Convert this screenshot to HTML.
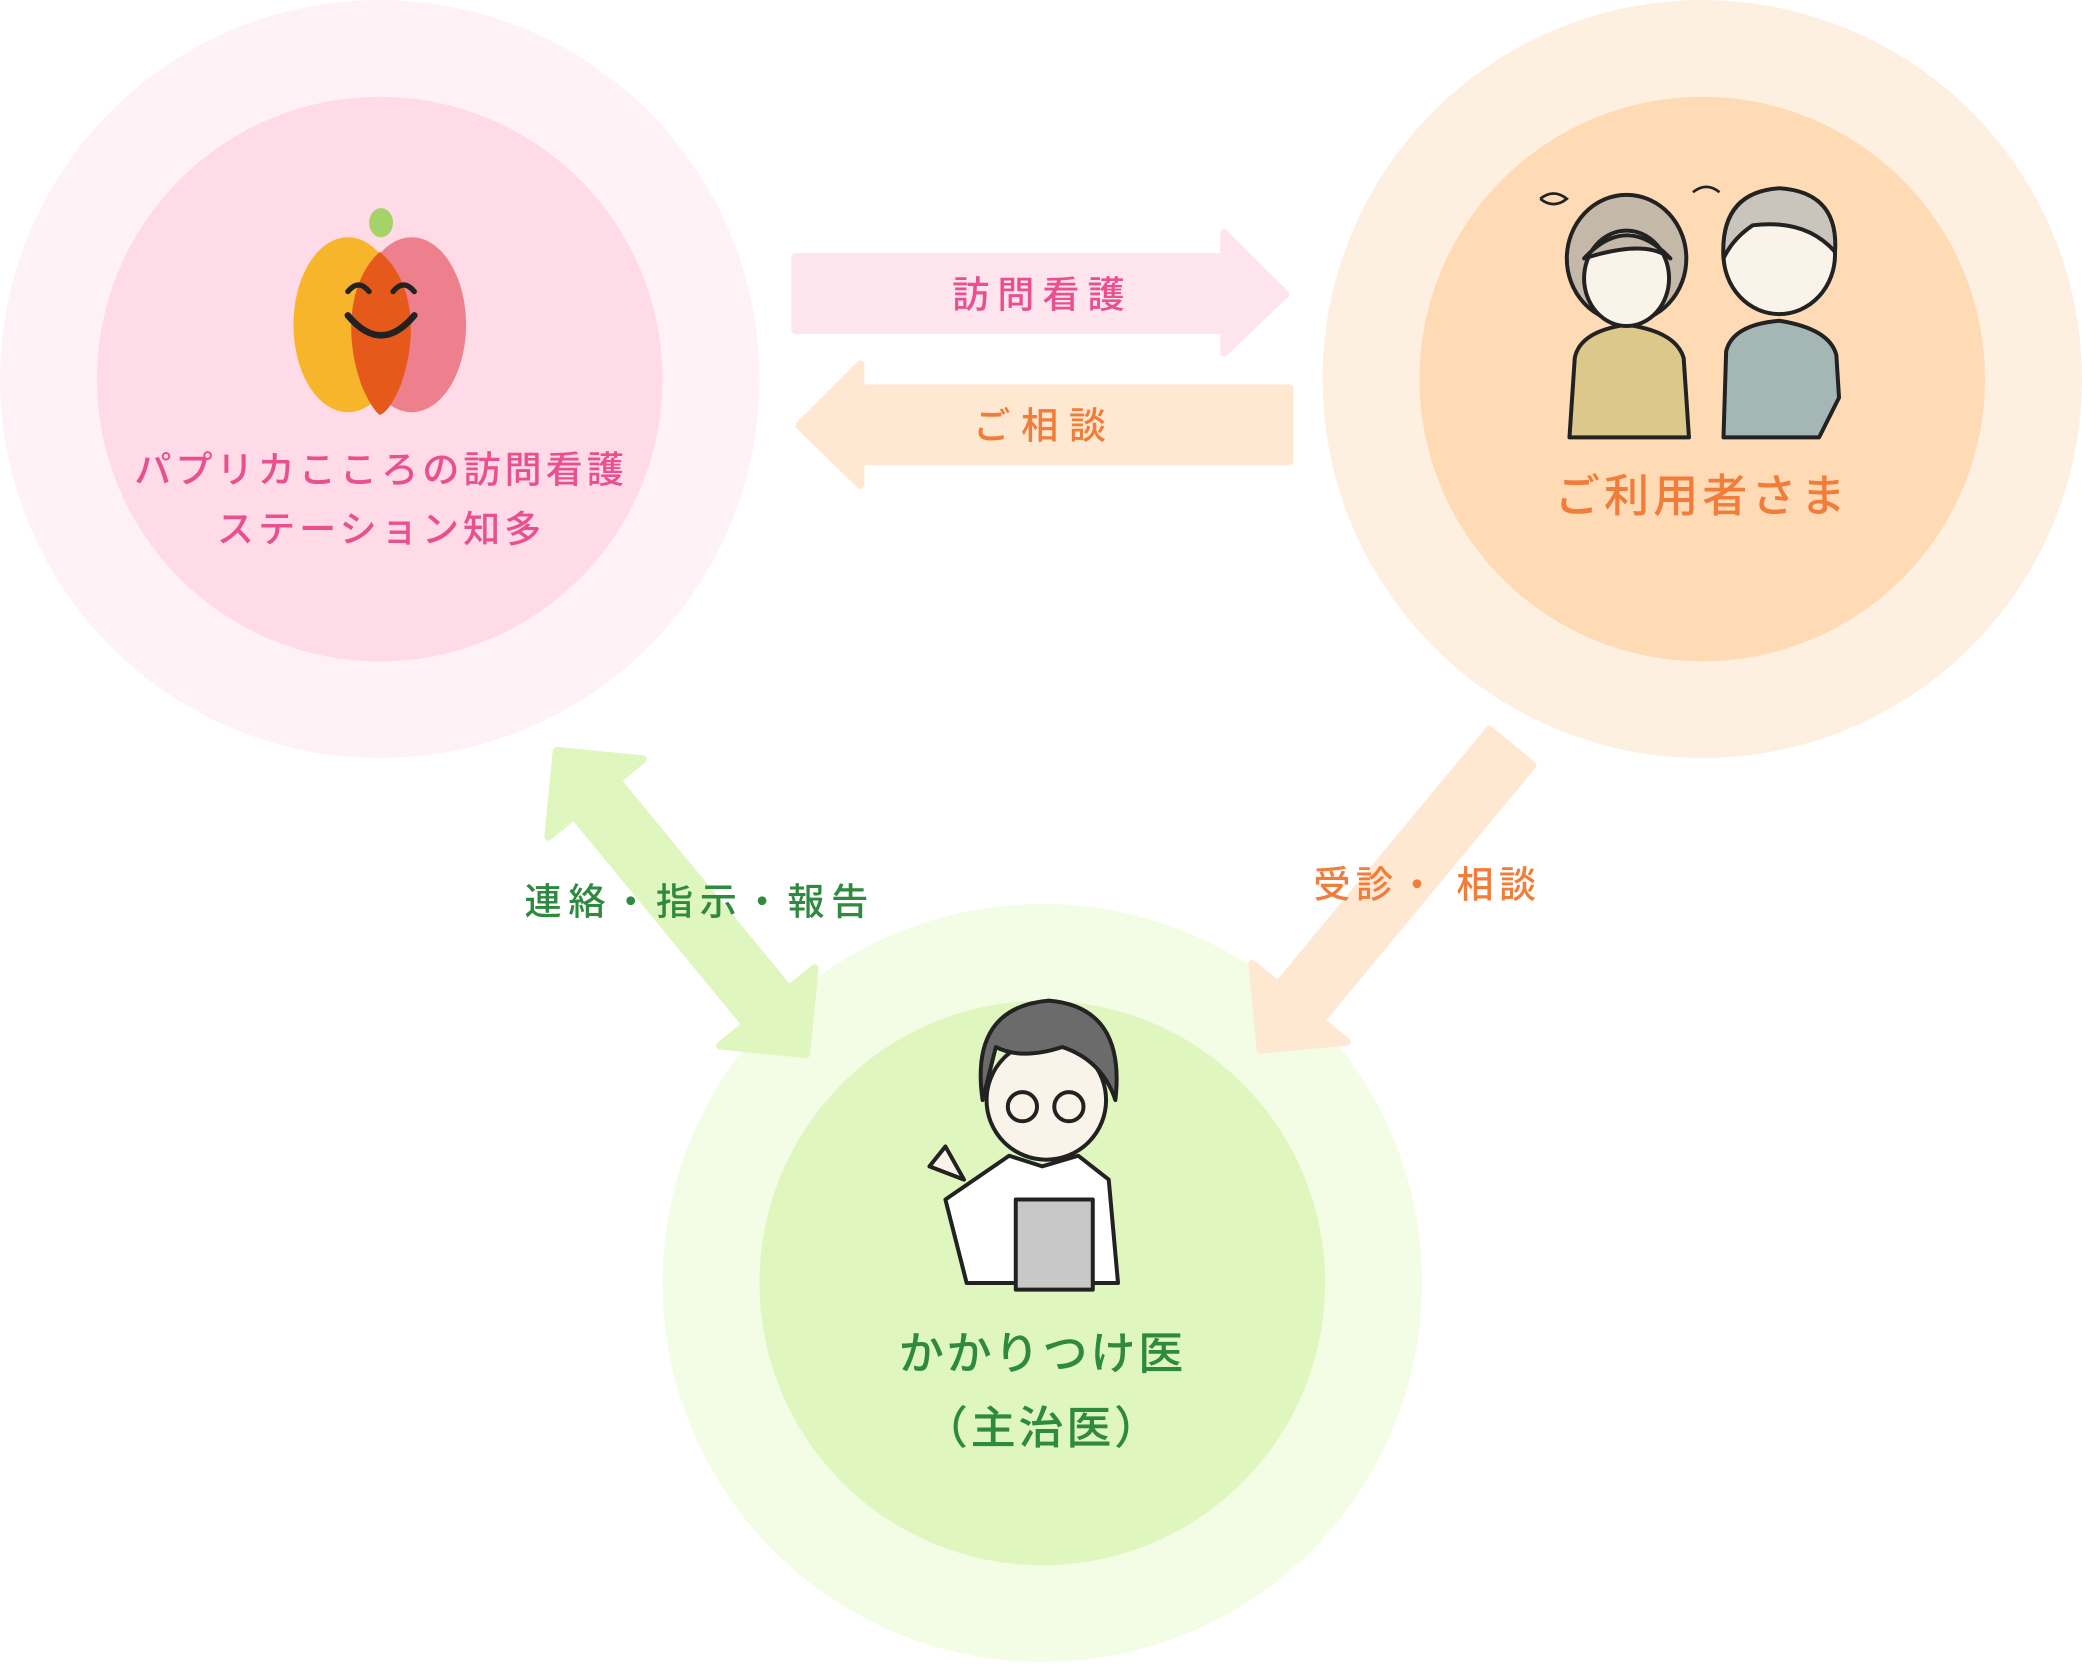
<!DOCTYPE html>
<html><head><meta charset="utf-8">
<style>
html,body{margin:0;padding:0;background:#fff;width:2082px;height:1666px;overflow:hidden}
svg{display:block}
text{font-family:"Liberation Sans","Noto Sans CJK JP",sans-serif;font-weight:500}
</style></head><body>
<svg width="2082" height="1666" viewBox="0 0 1568 1257" preserveAspectRatio="none" xmlns="http://www.w3.org/2000/svg">
<circle cx="286" cy="286" r="286" fill="#fff2f6"/>
<circle cx="286" cy="286" r="213" fill="#fedbe6"/>
<circle cx="1282" cy="286" r="286" fill="#fef0e1"/>
<circle cx="1282" cy="286" r="213" fill="#fedbb5"/>
<circle cx="785" cy="968" r="286" fill="#f3fce4"/>
<circle cx="785" cy="968" r="213" fill="#dff6bf"/>

<g stroke-linejoin="round" stroke-width="6">
<polygon points="599,194 922,194 922,176 968,222 922,266 922,249 599,249" fill="#fee4ec" stroke="#fee4ec"/>
<polygon points="971,293 648,293 648,275 602,321 648,366 648,348 971,348" fill="#fee8d2" stroke="#fee8d2"/>
<g transform="translate(418,565) rotate(50.6)" fill="#dff6bf" stroke="#dff6bf">
<polygon points="2,0 48,-46 48,-21 252,-21 252,-46 298,0 252,46 252,21 48,21 48,46"/>
</g>
<g transform="translate(1138,564) rotate(129.6)" fill="#fee8d2" stroke="#fee8d2">
<polygon points="0,-21 250,-21 250,-46 296,0 250,46 250,21 0,21"/>
</g>
</g>

<text x="785" y="232" font-size="28" fill="#e9508f" text-anchor="middle" letter-spacing="6">訪問看護</text>
<text x="787" y="331" font-size="28" fill="#f27c3a" text-anchor="middle" letter-spacing="8">ご相談</text>
<text x="527" y="690" font-size="28" fill="#2d8a3e" text-anchor="middle" letter-spacing="5">連絡・指示・報告</text>
<text x="1075" y="677" font-size="28" fill="#f27c3a" text-anchor="middle" letter-spacing="4">受診・ 相談</text>

<ellipse cx="287" cy="168" rx="9" ry="11" fill="#a5d36a"/>
<ellipse cx="262" cy="245" rx="41" ry="66" fill="#f7b52c"/>
<ellipse cx="310" cy="245" rx="41" ry="66" fill="#ee7f8d"/>
<path d="M286,190 C264,210 258,250 272,290 C278,305 284,312 286,313 C290,312 296,305 302,290 C316,250 310,210 286,190Z" fill="#e55a1b"/>
<path d="M262,220 q8,-10 16,0 M296,220 q8,-10 16,0" stroke="#222" stroke-width="4" fill="none" stroke-linecap="round"/>
<path d="M262,238 q25,30 50,0" stroke="#222" stroke-width="5" fill="none" stroke-linecap="round"/>

<text x="287" y="364" font-size="28" fill="#e9508f" text-anchor="middle" letter-spacing="3">パプリカこころの訪問看護</text>
<text x="287" y="409" font-size="28" fill="#e9508f" text-anchor="middle" letter-spacing="3">ステーション知多</text>

<g stroke="#222" stroke-width="3" stroke-linejoin="round">
<path d="M1182,330 L1186,270 Q1190,250 1225,245 Q1262,250 1268,270 L1272,330Z" fill="#dcc88a"/>
<ellipse cx="1225" cy="195" rx="45" ry="48" fill="#c4b8a8"/>
<ellipse cx="1225" cy="210" rx="32" ry="36" fill="#faf3ea"/>
<path d="M1193,195 Q1225,160 1258,195 Q1240,180 1193,195Z" fill="#c4b8a8"/>
<path d="M1298,330 L1300,265 Q1305,245 1340,242 Q1378,248 1383,268 L1385,300 L1370,330Z" fill="#a4b7b5"/>
<ellipse cx="1340" cy="192" rx="42" ry="45" fill="#faf3ea"/>
<path d="M1298,195 Q1295,145 1340,142 Q1385,145 1382,190 Q1360,165 1320,170 Q1305,180 1298,195Z" fill="#c9c4bc"/>
</g>
<path d="M1160,150 q10,-8 20,0 q-10,8 -20,0 M1275,145 q10,-8 20,0" stroke="#222" stroke-width="2" fill="none"/>
<text x="1282" y="386" font-size="34" fill="#f27c3a" text-anchor="middle" letter-spacing="3">ご利用者さま</text>

<g stroke="#222" stroke-width="3" stroke-linejoin="round">
<path d="M728,968 L712,905 L760,872 L785,880 L812,872 L835,890 L842,968Z" fill="#fff"/>
<rect x="765" y="905" width="58" height="68" fill="#c8c8c8"/>
<path d="M700,880 L712,865 L726,890 Z" fill="#faf3ea"/>
<ellipse cx="788" cy="830" rx="45" ry="45" fill="#faf3ea"/>
<path d="M740,830 Q730,760 790,755 Q848,760 840,830 Q830,800 800,790 Q770,800 750,790 Q745,810 740,830Z" fill="#6b6b6b"/>
<circle cx="770" cy="835" r="11" fill="none"/><circle cx="805" cy="835" r="11" fill="none"/>
</g>
<text x="785" y="1033" font-size="34" fill="#2d8a3e" text-anchor="middle" letter-spacing="2">かかりつけ医</text>
<text x="785" y="1089" font-size="34" fill="#2d8a3e" text-anchor="middle" letter-spacing="2">（主治医）</text>
</svg>
</body></html>
